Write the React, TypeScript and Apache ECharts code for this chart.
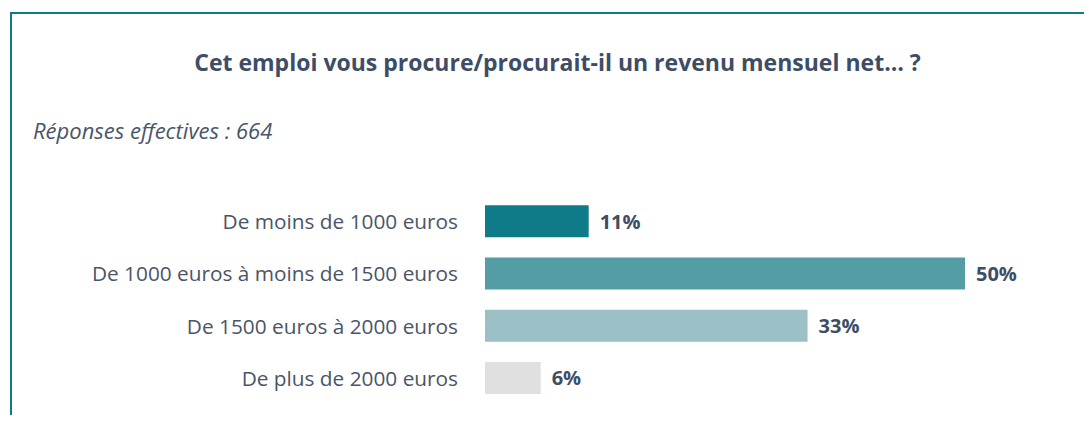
import React, { useEffect, useRef } from "react";
import * as echarts from "echarts";

const categories = [
  "De moins de 1000 euros",
  "De 1000 euros à moins de 1500 euros",
  "De 1500 euros à 2000 euros",
  "De plus de 2000 euros",
];
const values = [10.8, 50.0, 33.6, 5.8];
const labels = ["11%", "50%", "33%", "6%"];
const colors = ["#0f7b88", "#549da5", "#9bc0c5", "#e0e0e0"];
const titleText = "Cet emploi vous procure/procurait-il un revenu mensuel net… ?";
const subtitleText = "Réponses effectives : 664";

export default function App() {
  const ref = useRef<HTMLDivElement>(null);
  useEffect(() => {
    if (!ref.current) return;
    const chart = echarts.init(ref.current, undefined, { renderer: "svg" });
    const font = "'Open Sans', 'Noto Sans', sans-serif";
    chart.setOption({
      animation: false,
      textStyle: { fontFamily: font },
      graphic: [
        {
          type: "text",
          x: 549.5,
          y: 54,
          style: {
            text: titleText,
            textAlign: "center",
            textVerticalAlign: "middle",
            font: `bold 23px ${font}`,
            fill: "#3e4d66",
          },
        },
        {
          type: "text",
          x: 25,
          y: 122,
          style: {
            text: subtitleText,
            textAlign: "left",
            textVerticalAlign: "middle",
            font: `italic 22px ${font}`,
            fill: "#4a5568",
          },
        },
      ],
      grid: { left: 477, top: 187, height: 209, width: 576, containLabel: false },
      xAxis: {
        type: "value",
        min: 0,
        max: 60,
        show: false,
      },
      yAxis: {
        type: "category",
        inverse: true,
        data: categories,
        axisLine: { show: false },
        axisTick: { show: false },
        axisLabel: {
          margin: 27,
          fontSize: 20.8,
          color: "#4a5568",
          fontFamily: font,
        },
      },
      series: [
        {
          type: "bar",
          barWidth: 32,
          data: values.map((v, i) => ({ value: v, itemStyle: { color: colors[i] } })),
          label: {
            show: true,
            position: "right",
            distance: 11,
            formatter: (p: any) => labels[p.dataIndex],
            fontSize: 20,
            fontWeight: "bold",
            color: "#3e4d66",
            fontFamily: font,
          },
        },
      ],
    });
    return () => chart.dispose();
  }, []);
  return (
    <div style={{ position: "relative", width: 1084, height: 407, overflow: "hidden" }}>
      <div
        style={{
          position: "absolute",
          left: 2,
          top: 4,
          width: 1200,
          height: 600,
          borderLeft: "2px solid #0e7c86",
          borderTop: "2px solid #0e7c86",
        }}
      />
      <div ref={ref} style={{ position: "absolute", left: 0, top: 0, width: 1084, height: 407 }} />
    </div>
  );
}
